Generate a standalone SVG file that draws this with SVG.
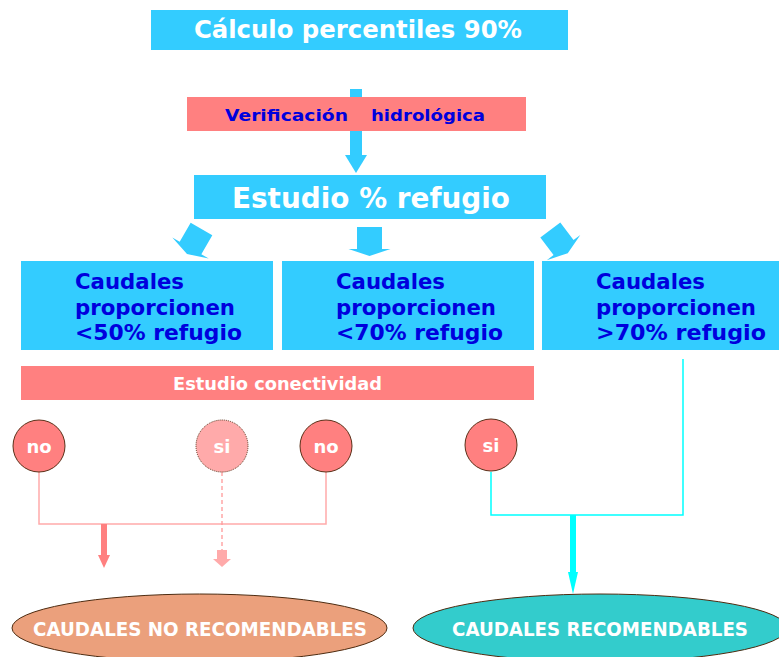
<svg xmlns="http://www.w3.org/2000/svg" width="779" height="657" viewBox="0 0 779 657">
<style>
.cy{fill:#33CCFF}
.pk{fill:#FF8080}
.wt{fill:#FFFFFF;font-family:"DejaVu Sans",Verdana,sans-serif;font-weight:bold}
.bl{fill:#0000DD;font-family:"DejaVu Sans",Verdana,sans-serif;font-weight:bold}
.circ{fill:#FF8080;stroke:#5A3018;stroke-width:1}
.pl{fill:none;stroke:#FFAAAA;stroke-width:1.5}
.cl{fill:none;stroke:#00FFFF;stroke-width:1.5}
</style>
<defs>
<path id="blk" d="M-12.5,0 h25 v22 h8.5 L0,29 L-21,22 h8.5 z" fill="#33CCFF"/>
</defs>
<rect width="779" height="657" fill="#FFFFFF"/>

<g id="connectors">
<rect x="350" y="89" width="12" height="66" class="cy"/>
<polygon points="345,155 367,155 356,173" class="cy"/>
<use href="#blk" transform="translate(201.5,229) rotate(30)"/>
<use href="#blk" transform="translate(369.5,227)"/>
<use href="#blk" transform="translate(550.3,230) rotate(-37)"/>
<polyline points="39,472 39,524 326,524 326,472" class="pl"/>
<rect x="101" y="524" width="6" height="32" class="pk"/>
<polygon points="98,555 110,555 104,568" class="pk"/>
<line x1="222" y1="472" x2="222" y2="552" stroke="#FF9999" stroke-width="1.3" stroke-dasharray="4,3"/>
<path d="M217,550 h10 v9 h4 L222,567 L213,559 h4 z" fill="#FFAAAA"/>
<polyline points="683,359 683,515 491,515 491,472" class="cl"/>
<rect x="570" y="515" width="6" height="58" fill="#00FFFF"/>
<polygon points="568,572 578,572 573,594" fill="#00FFFF"/>
</g>

<g id="n-calculo">
<rect x="151" y="10" width="417" height="40" class="cy"/>
<text x="194" y="38" class="wt" font-size="24" textLength="328" lengthAdjust="spacingAndGlyphs">Cálculo percentiles 90%</text>
</g>

<g id="n-verificacion">
<rect x="187" y="97" width="339" height="34" class="pk"/>
<text x="225" y="121" class="bl" font-size="16.5" textLength="123" lengthAdjust="spacingAndGlyphs">Verificación</text>
<text x="371" y="121" class="bl" font-size="16.5" textLength="114" lengthAdjust="spacingAndGlyphs">hidrológica</text>
</g>

<g id="n-estudio">
<rect x="194" y="175" width="352" height="44" class="cy"/>
<text x="232" y="208" class="wt" font-size="29" textLength="278" lengthAdjust="spacingAndGlyphs">Estudio % refugio</text>
</g>

<g id="n-box1">
<rect x="21" y="261" width="252" height="89" class="cy"/>
<text class="bl" font-size="20.5">
<tspan x="75" y="289" textLength="109" lengthAdjust="spacingAndGlyphs">Caudales</tspan>
<tspan x="75" y="315" textLength="160" lengthAdjust="spacingAndGlyphs">proporcionen</tspan>
<tspan x="75" y="340" textLength="167" lengthAdjust="spacingAndGlyphs">&lt;50% refugio</tspan>
</text>
</g>

<g id="n-box2">
<rect x="282" y="261" width="252" height="89" class="cy"/>
<text class="bl" font-size="20.5">
<tspan x="336" y="289" textLength="109" lengthAdjust="spacingAndGlyphs">Caudales</tspan>
<tspan x="336" y="315" textLength="160" lengthAdjust="spacingAndGlyphs">proporcionen</tspan>
<tspan x="336" y="340" textLength="167" lengthAdjust="spacingAndGlyphs">&lt;70% refugio</tspan>
</text>
</g>

<g id="n-box3">
<rect x="542" y="261" width="237" height="89" class="cy"/>
<text class="bl" font-size="20.5">
<tspan x="596" y="289" textLength="109" lengthAdjust="spacingAndGlyphs">Caudales</tspan>
<tspan x="596" y="315" textLength="160" lengthAdjust="spacingAndGlyphs">proporcionen</tspan>
<tspan x="596" y="340" textLength="170" lengthAdjust="spacingAndGlyphs">&gt;70% refugio</tspan>
</text>
</g>

<g id="n-conectividad">
<rect x="21" y="366" width="513" height="34" class="pk"/>
<text x="173" y="390" class="wt" font-size="17" textLength="209" lengthAdjust="spacingAndGlyphs">Estudio conectividad</text>
</g>

<g id="n-no1">
<circle cx="39" cy="446" r="26" class="circ"/>
<text x="39" y="453" class="wt" font-size="18" text-anchor="middle">no</text>
</g>
<g id="n-si1">
<circle cx="222" cy="446" r="26" fill="#FFAAAA" stroke="#5A3018" stroke-width="1" stroke-dasharray="1,1"/>
<text x="222" y="453" class="wt" font-size="18" text-anchor="middle">si</text>
</g>
<g id="n-no2">
<circle cx="326" cy="446" r="26" class="circ"/>
<text x="326" y="453" class="wt" font-size="18" text-anchor="middle">no</text>
</g>
<g id="n-si2">
<circle cx="491" cy="445" r="26" class="circ"/>
<text x="491" y="452" class="wt" font-size="18" text-anchor="middle">si</text>
</g>

<g id="n-norecom">
<ellipse cx="199.5" cy="628" rx="187.5" ry="34" fill="#EBA07C" stroke="#4D2B10" stroke-width="1"/>
<text x="33" y="636" class="wt" font-size="19" textLength="334" lengthAdjust="spacingAndGlyphs">CAUDALES NO RECOMENDABLES</text>
</g>
<g id="n-recom">
<ellipse cx="600" cy="628" rx="187" ry="34" fill="#33CCCC" stroke="#4D2B10" stroke-width="1"/>
<text x="452" y="636" class="wt" font-size="19" textLength="296" lengthAdjust="spacingAndGlyphs">CAUDALES RECOMENDABLES</text>
</g>
</svg>
